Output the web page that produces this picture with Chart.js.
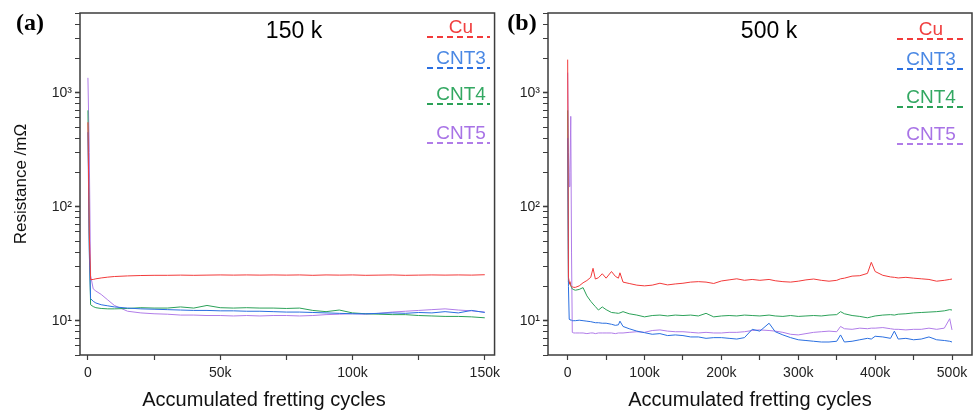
<!DOCTYPE html>
<html>
<head>
<meta charset="utf-8">
<script src="https://cdn.jsdelivr.net/npm/chart.js@4.4.1/dist/chart.umd.min.js"></script>
<style>
  html, body { margin: 0; padding: 0; background: #fff; }
  #wrap { position: relative; width: 976px; height: 410px; overflow: hidden; }
  canvas { position: absolute; top: 0; }
  #chartA { left: 0; }
  #chartB { left: 500px; }
</style>
</head>
<body>
<div id="wrap">
  <canvas id="chartA" width="505" height="410"></canvas>
  <canvas id="chartB" width="476" height="410"></canvas>
</div>
<script>
// series
const seriesNames = ['Cu', 'CNT3', 'CNT4', 'CNT5'];
const lineColors = ['#f23a3a', '#2a6fe0', '#2ba158', '#b07ce8'];
const legendColors = ['#f04040', '#4a88e4', '#33a862', '#a873e6'];

// 150 k run
const cyclesA = [
  0, 500, 1000, 2000, 3000, 5000, 7500, 10000, 15000, 20000,
  25000, 30000, 35000, 40000, 45000, 50000, 55000, 60000, 65000, 70000,
  75000, 80000, 85000, 90000, 95000, 100000, 105000, 110000, 115000, 120000,
  125000, 130000, 135000, 140000, 145000, 150000
];
const cuA = [
  550, 60, 22.9, 23.0, 23.3, 23.7, 24.1, 24.4, 24.7, 24.9,
  25.0, 25.0, 25.1, 25.0, 25.1, 25.2, 25.1, 25.2, 25.1, 25.2,
  25.1, 25.2, 25.0, 25.2, 25.1, 25.2, 25.0, 25.1, 25.2, 25.0,
  25.1, 25.2, 25.1, 25.2, 25.1, 25.3
];
const cnt3A = [
  450, 40, 15.6, 14.8, 14.3, 13.8, 13.5, 13.2, 12.9, 12.7,
  12.6, 12.5, 12.4, 12.3, 12.3, 12.2, 12.2, 12.1, 12.1, 12.0,
  11.9, 11.9, 11.8, 11.7, 11.6, 11.5, 11.5, 11.6, 11.7, 11.6,
  11.8, 11.7, 12.0, 11.7, 12.3, 11.8
];
const cnt4A = [
  700, 50, 13.8, 13.3, 13.0, 12.8, 12.7, 12.7, 12.8, 13.0,
  12.9, 12.9, 13.2, 12.9, 13.6, 13.0, 12.9, 13.0, 12.9, 12.9,
  12.8, 12.9, 12.3, 12.0, 12.4, 11.7, 11.5, 11.4, 11.3, 11.3,
  11.1, 11.0, 10.9, 10.9, 10.8, 10.6
];
const cnt5A = [
  1350, 300, 25, 19.0, 18.2, 17.0, 15.2, 13.6, 12.1, 11.7,
  11.5, 11.4, 11.2, 11.2, 11.1, 11.1, 11.0, 11.1, 11.0, 11.1,
  11.1, 11.0, 11.1, 11.3, 11.4, 11.5, 11.4, 11.6, 11.9, 12.1,
  12.3, 12.5, 12.7, 12.4, 12.2, 11.9
];

// 500 k run
const cyclesB = [
  0, 1000, 2000, 3000, 4000, 5000, 6000, 8000, 10000, 15000,
  20000, 25000, 30000, 33000, 36000, 40000, 45000, 50000, 57000, 62000,
  66000, 68000, 72000, 80000, 90000, 100000, 110000, 120000, 130000, 140000,
  150000, 160000, 170000, 180000, 190000, 200000, 210000, 220000, 230000, 240000,
  250000, 262000, 270000, 280000, 290000, 300000, 310000, 320000, 330000, 340000,
  350000, 355000, 360000, 370000, 380000, 390000, 395000, 400000, 410000, 420000,
  425000, 430000, 440000, 450000, 460000, 470000, 480000, 490000, 497000, 500000
];
const cuB = [
  1950, 24.0, 22.0, 21.0, 20.3, 20.0, 19.8, 19.6, 19.6, 20.2,
  21.5, 22.5, 24.0, 28.8, 23.2, 23.8, 25.8, 23.6, 27.0, 24.5,
  23.6, 26.3, 21.8, 21.2, 20.5, 20.2, 20.5, 21.3, 20.6, 21.0,
  21.3, 21.8, 22.0, 21.8, 21.2, 22.3, 22.8, 23.3, 22.6, 23.0,
  22.6, 23.0, 22.4, 22.0, 21.8, 22.2, 22.8, 23.2, 22.6, 22.2,
  22.6, 23.3, 23.6, 24.6, 24.8, 26.0, 32.5, 27.0, 25.0, 24.2,
  24.0, 23.7, 24.0, 23.6, 23.3, 23.0, 22.2, 22.6, 23.0, 23.2
];
const cnt3B = [
  400, 20.0, 10.3, 10.2, 10.1, 10.1, 10.0, 10.0, 10.0, 10.1,
  10.0, 9.9, 9.8, 9.7, 9.6, 9.6, 9.5, 9.5, 9.3, 9.1,
  9.2, 9.9, 8.9, 8.5, 8.1, 7.85, 7.6, 7.7, 7.4, 7.5,
  7.4, 7.2, 7.2, 7.0, 7.1, 7.1, 7.0, 6.9, 7.1, 8.4,
  8.1, 9.5, 8.0, 7.5, 7.1, 6.8, 6.7, 6.6, 6.5, 6.5,
  6.6, 7.5, 6.5, 6.6, 6.8, 7.0, 6.9, 7.3, 7.2, 7.0,
  8.1, 6.9, 7.0, 6.8, 6.9, 7.2, 6.8, 6.7, 6.6, 6.5
];
const cnt4B = [
  700, 22.0, 21.5, 21.0, 20.3, 19.5, 19.0, 18.7, 18.5, 18.8,
  19.5, 16.5, 14.8, 14.0, 13.3, 12.4, 13.2, 12.5, 11.8, 11.7,
  11.6, 11.7, 12.0, 11.5, 11.2, 10.8, 11.1, 11.2, 11.0, 11.2,
  11.1, 11.2, 11.0, 11.6, 10.8, 11.0, 11.1, 11.0, 11.2, 11.1,
  11.0, 11.2, 11.0, 10.9, 11.1, 10.9, 11.0, 11.1, 11.0, 11.2,
  11.3, 12.0, 11.5, 11.1, 10.9, 10.6, 10.8, 11.0, 11.2, 11.3,
  11.2, 11.4, 11.5, 11.7, 11.8, 11.9, 12.0, 12.2, 12.5, 12.4
];
const cnt5B = [
  1500, 300, 150, 200, 620, 40, 7.9, 7.8, 7.8, 7.8,
  7.8, 7.7, 7.8, 7.8, 7.7, 7.8, 7.8, 7.8, 7.8, 7.7,
  7.8, 7.8, 7.8, 7.9, 8.0, 7.9, 8.2, 8.3, 8.1, 8.0,
  8.0, 7.9, 7.8, 7.9, 7.8, 7.8, 7.9, 7.9, 8.0, 8.2,
  8.3, 8.2, 8.1, 7.9, 7.6, 7.5, 7.7, 7.9, 8.0, 8.1,
  8.0, 8.9, 8.5, 8.4, 8.6, 8.5, 8.6, 8.6, 8.7, 8.5,
  8.4, 8.4, 8.3, 8.4, 8.4, 8.6, 8.4, 8.6, 10.4, 8.3
];

// axis ticks
const xTicksA = [0, 25000, 50000, 75000, 100000, 125000, 150000];
const xTickLabelsA = ['0', '', '50k', '', '100k', '', '150k'];
const xTicksB = [0, 50000, 100000, 150000, 200000, 250000, 300000, 350000, 400000, 450000, 500000];
const xTickLabelsB = ['0', '', '100k', '', '200k', '', '300k', '', '400k', '', '500k'];
const yTicks = [5, 6, 7, 8, 9, 10, 20, 30, 40, 50, 60, 70, 80, 90, 100,
  200, 300, 400, 500, 600, 700, 800, 900, 1000, 2000, 3000, 4000, 5000];
const yMajor = [10, 100, 1000];
const yMajorLabels = ['10¹', '10²', '10³'];

const SANS = '"Liberation Sans", Arial, sans-serif';

// frame, panel letter, title, axis titles and dashed legend
const panelDecor = {
  id: 'panelDecor',
  afterDraw(chart, args, o) {
    const ctx = chart.ctx;
    const a = chart.chartArea;
    ctx.save();
    ctx.strokeStyle = '#3c3c3c';
    ctx.lineWidth = 1.5;
    ctx.strokeRect(a.left, a.top, a.right - a.left, a.bottom - a.top);

    ctx.fillStyle = '#000';
    ctx.textAlign = 'center';
    ctx.textBaseline = 'middle';
    ctx.font = 'bold 24px "Liberation Serif", "Times New Roman", serif';
    ctx.fillText(o.letter, o.letterX, 24);

    ctx.textBaseline = 'alphabetic';
    ctx.font = '23px ' + SANS;
    ctx.fillText(o.title, o.titleX, 38);

    ctx.fillStyle = '#111';
    ctx.font = '20px ' + SANS;
    ctx.fillText('Accumulated fretting cycles', o.xTitleX, 406);

    if (o.yTitle) {
      ctx.save();
      ctx.translate(21, (a.top + a.bottom) / 2);
      ctx.rotate(-Math.PI / 2);
      ctx.textBaseline = 'middle';
      ctx.font = '17px ' + SANS;
      ctx.fillText(o.yTitle, 0, 0);
      ctx.restore();
    }

    ctx.font = '19px ' + SANS;
    ctx.lineWidth = 2;
    ctx.setLineDash([6, 4]);
    chart.data.datasets.forEach((ds, i) => {
      const y = o.legendY[i];
      ctx.fillStyle = legendColors[i];
      ctx.fillText(ds.label, o.legendTextX, y - 4.5);
      ctx.strokeStyle = ds.borderColor;
      ctx.beginPath();
      ctx.moveTo(o.legendX0, y);
      ctx.lineTo(o.legendX1, y);
      ctx.stroke();
    });
    ctx.restore();
  }
};

function makeDatasets(cycles, values) {
  return values.map((vals, i) => ({
    label: seriesNames[i],
    data: cycles.map((c, j) => ({ x: c, y: vals[j] })),
    borderColor: lineColors[i],
    borderWidth: 1,
    pointRadius: 0,
    tension: 0,
    fill: false
  }));
}

function makeChart(id, cycles, values, xr, xTicks, xLabels, yAxisWidth, pad, decor) {
  return new Chart(document.getElementById(id), {
    type: 'line',
    data: { datasets: makeDatasets(cycles, values) },
    options: {
      responsive: false,
      animation: false,
      layout: { padding: pad },
      plugins: { legend: { display: false }, tooltip: { enabled: false }, panelDecor: decor },
      scales: {
        x: {
          type: 'linear',
          min: xr[0],
          max: xr[1],
          afterBuildTicks: s => { s.ticks = xTicks.map(v => ({ value: v })); },
          afterFit: s => { s.height = 55; },
          border: { display: false },
          grid: { drawOnChartArea: false, drawTicks: true, tickLength: 5, tickColor: '#3c3c3c', tickWidth: 1.2 },
          ticks: {
            autoSkip: false, maxRotation: 0, padding: 5,
            color: '#222', font: { family: SANS, size: 14 },
            callback: (v, i) => xLabels[i]
          }
        },
        y: {
          type: 'logarithmic',
          min: 5,
          max: 5000,
          afterBuildTicks: s => { s.ticks = yTicks.map(v => ({ value: v })); },
          afterFit: s => { s.width = yAxisWidth; },
          border: { display: false },
          grid: {
            drawOnChartArea: false, drawTicks: true, tickLength: 5, tickColor: '#3c3c3c',
            tickWidth: c => (yMajor.includes(c.tick && c.tick.value) ? 1.6 : 1)
          },
          ticks: {
            autoSkip: false, padding: 3,
            color: '#222', font: { family: SANS, size: 14 },
            callback: v => { const k = yMajor.indexOf(v); return k >= 0 ? yMajorLabels[k] : ''; }
          }
        }
      }
    },
    plugins: [panelDecor]
  });
}

makeChart('chartA', cyclesA, [cuA, cnt3A, cnt4A, cnt5A], [-3000, 153700],
  xTicksA, xTickLabelsA, 80, { left: 0, right: 2, top: 13, bottom: 0 },
  { letter: '(a)', letterX: 30, title: '150 k', titleX: 294, xTitleX: 264,
    yTitle: 'Resistance /mΩ',
    legendX0: 427, legendX1: 490, legendTextX: 461, legendY: [37, 68, 104, 143] });

makeChart('chartB', cyclesB, [cuB, cnt3B, cnt4B, cnt5B], [-25600, 526000],
  xTicksB, xTickLabelsB, 48, { left: 0, right: 4, top: 13, bottom: 0 },
  { letter: '(b)', letterX: 22, title: '500 k', titleX: 269, xTitleX: 250,
    legendX0: 397, legendX1: 467, legendTextX: 431, legendY: [39, 69, 107, 144] });
</script>
</body>
</html>
